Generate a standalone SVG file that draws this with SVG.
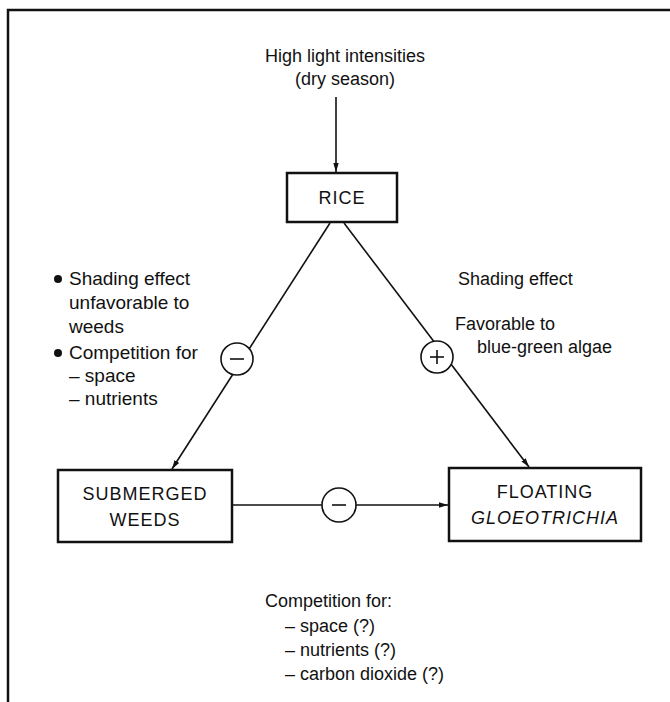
<svg xmlns="http://www.w3.org/2000/svg" width="670" height="702" viewBox="0 0 670 702">
<defs>
<style>
text{font-family:"Liberation Sans",Arial,sans-serif;font-size:18px;fill:#111}
.c{text-anchor:middle}
.bt{letter-spacing:1px}
.ln19{font-size:19px}
.box{fill:#fff;stroke:#111;stroke-width:2.5}
.ln{stroke:#111;stroke-width:1.6;fill:none}
.circ{fill:#fff;stroke:#111;stroke-width:1.6}
</style>
<marker id="ah" viewBox="0 0 10 10" refX="10" refY="5" markerWidth="9" markerHeight="9" markerUnits="userSpaceOnUse" orient="auto">
<path d="M0,2 L10,5 L0,8 z" fill="#111"/>
</marker>
</defs>
<rect width="670" height="702" fill="#fff"/>
<g id="frame">
<path d="M8,702 V10 H670" fill="none" stroke="#111" stroke-width="2.5"/>
</g>
<g id="light">
<text class="c" x="345" y="62">High light intensities</text>
<text class="c" x="345" y="85">(dry season)</text>
</g>
<g id="rice">
<rect class="box" x="287" y="173" width="110" height="49"/>
<text class="c bt" x="342" y="204">RICE</text>
</g>
<g id="weeds">
<rect class="box" x="58" y="470" width="174" height="72"/>
<text class="c bt" x="145" y="500">SUBMERGED</text>
<text class="c bt" x="145" y="526">WEEDS</text>
</g>
<g id="gloeo">
<rect class="box" x="449" y="468" width="192" height="73"/>
<text class="c bt" x="545" y="498">FLOATING</text>
<text class="c bt" x="545" y="524" font-style="italic">GLOEOTRICHIA</text>
</g>
<g id="connectors">
<line class="ln" x1="336" y1="97" x2="336" y2="172" marker-end="url(#ah)"/>
<line class="ln" x1="330" y1="223" x2="172" y2="469" marker-end="url(#ah)"/>
<line class="ln" x1="344" y1="223" x2="529" y2="467" marker-end="url(#ah)"/>
<line class="ln" x1="233" y1="505" x2="448" y2="505" marker-end="url(#ah)"/>
</g>
<g id="sign-left">
<circle class="circ" cx="237" cy="359" r="16"/>
<line class="ln" x1="230" y1="359" x2="244" y2="359"/>
</g>
<g id="sign-right">
<circle class="circ" cx="437" cy="357" r="16"/>
<line class="ln" x1="430" y1="357" x2="444" y2="357"/>
<line class="ln" x1="437" y1="350" x2="437" y2="364"/>
</g>
<g id="sign-bottom">
<circle class="circ" cx="339" cy="505" r="17"/>
<line class="ln" x1="332" y1="505" x2="346" y2="505"/>
</g>
<g id="left-notes">
<circle cx="58" cy="279" r="4" fill="#111"/>
<text class="ln19" x="69" y="285">Shading effect</text>
<text class="ln19" x="69" y="309">unfavorable to</text>
<text class="ln19" x="69" y="333">weeds</text>
<circle cx="58" cy="353" r="4" fill="#111"/>
<text class="ln19" x="69" y="359">Competition for</text>
<text class="ln19" x="69" y="382">– space</text>
<text class="ln19" x="69" y="405">– nutrients</text>
</g>
<g id="right-notes">
<text x="458" y="285">Shading effect</text>
<text x="455" y="330">Favorable to</text>
<text x="477" y="353">blue-green algae</text>
</g>
<g id="bottom-notes">
<text x="265" y="607">Competition for:</text>
<text x="285" y="632">– space (?)</text>
<text x="285" y="656">– nutrients (?)</text>
<text x="285" y="680">– carbon dioxide (?)</text>
</g>
</svg>
